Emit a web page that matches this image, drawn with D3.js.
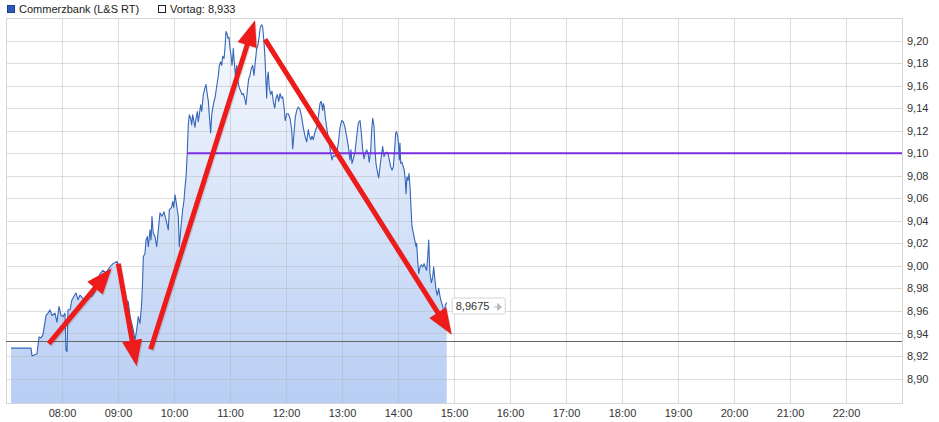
<!DOCTYPE html>
<html>
<head>
<meta charset="utf-8">
<script src="https://cdn.jsdelivr.net/npm/d3@7"></script>
<style>
  body { margin: 0; background: #fff; }
  svg { display: block; font-family: "Liberation Sans", Arial, sans-serif; }
</style>
</head>
<body>
<svg id="chart" width="939" height="422"></svg>
<script>
// Commerzbank (L&S RT) intraday ticks, time in minutes after 07:00
const tradeMinutes = [
  5.4, 26.8, 27.9, 33.2, 35.4, 37.5, 39.6, 42.9, 45.0, 47.1, 49.3, 52.5, 54.6, 56.8, 58.9, 61.1, 63.2, 64.3, 65.4, 66.4,
  68.6, 70.7, 72.9, 75.0, 77.1, 79.3, 82.5, 85.7, 88.9, 92.1, 95.4, 98.6, 100.7, 103.9, 107.1, 111.4, 114.6, 118.9, 122.1, 124.0,
  127.5, 131.0, 132.9, 136.4, 138.2, 140.0, 141.7, 143.6, 145.4, 146.5, 147.1, 148.9, 150.0, 151.4, 152.5, 154.3, 155.4, 156.4, 157.8, 159.6,
  161.5, 162.5, 165.0, 167.1, 169.3, 171.4, 173.9, 175.0, 177.5, 178.6, 179.7, 181.1, 183.5, 184.6, 185.7, 187.2, 189.3, 190.7, 191.8, 192.9,
  194.2, 195.3, 196.4, 197.9, 199.0, 200.0, 201.4, 202.5, 203.6, 205.0, 206.0, 207.1, 208.6, 209.7, 211.4, 213.2, 214.3, 215.7, 216.8, 217.8,
  219.3, 220.4, 221.5, 222.9, 223.9, 225.0, 226.4, 227.5, 228.6, 230.0, 231.1, 232.2, 233.6, 234.6, 235.7, 236.8, 237.9, 238.9, 240.0, 241.1,
  242.1, 242.9, 243.5, 244.6, 245.7, 247.2, 248.6, 250.0, 251.5, 252.9, 254.2, 255.7, 257.1, 258.5, 260.0, 261.4, 262.8, 264.3, 265.7, 267.1,
  268.6, 270.0, 271.4, 272.5, 274.0, 275.0, 276.4, 277.5, 278.6, 279.3, 280.0, 281.0, 282.1, 283.6, 285.0, 286.4, 287.9, 289.3, 290.7, 292.2,
  293.6, 295.0, 296.5, 297.9, 299.2, 300.7, 302.5, 304.3, 306.1, 307.2, 308.6, 310.0, 311.5, 313.2, 315.0, 316.8, 318.5, 320.4, 322.2, 323.9,
  325.0, 326.5, 327.9, 329.2, 331.1, 332.9, 334.6, 336.4, 337.8, 339.3, 340.0, 341.0, 342.1, 343.6, 345.0, 346.4, 347.9, 349.3, 350.7, 352.5,
  354.3, 356.1, 357.9, 359.7, 361.4, 363.2, 365.0, 366.8, 368.6, 369.6, 370.7, 372.1, 373.9, 375.8, 377.5, 379.3, 380.7, 382.2, 383.6, 385.0,
  386.5, 387.9, 389.2, 390.8, 391.8, 392.9, 394.3, 395.4, 396.4, 397.8, 399.3, 400.7, 402.1, 403.6, 405.0, 406.4, 407.9, 409.3, 410.7, 412.2,
  413.6, 415.0, 416.4, 417.5, 418.6, 419.7, 420.8, 421.4, 422.1, 422.9, 424.3, 425.7, 426.7, 427.8, 428.6, 429.6, 430.7, 431.8, 432.9, 433.9,
  435.0, 436.4, 437.9, 439.3, 440.0, 441.1, 442.2, 443.6, 445.0, 446.5, 447.9, 449.2, 450.7, 452.1, 452.9, 453.5, 454.3, 455.7, 457.2, 458.2,
  459.3, 460.7, 462.1, 463.6, 465.0, 466.4, 467.9, 469.3, 470.7, 472.2
];
const tradePrices = [
  8.927, 8.927, 8.920, 8.922, 8.937, 8.936, 8.939, 8.956, 8.958, 8.961, 8.956, 8.958, 8.950, 8.964, 8.956, 8.955, 8.958, 8.925, 8.924, 8.961,
  8.961, 8.970, 8.973, 8.976, 8.970, 8.974, 8.971, 8.970, 8.972, 8.973, 8.977, 8.987, 8.993, 8.996, 8.994, 8.999, 9.002, 9.004, 8.996, 8.979,
  8.970, 8.968, 8.955, 8.943, 8.934, 8.943, 8.955, 8.949, 8.967, 8.990, 9.008, 9.011, 9.023, 9.026, 9.017, 9.032, 9.023, 9.044, 9.029, 9.026,
  9.017, 9.026, 9.047, 9.044, 9.048, 9.041, 9.032, 9.050, 9.052, 9.057, 9.052, 9.063, 9.050, 9.044, 9.017, 9.032, 9.050, 9.058, 9.070, 9.079,
  9.100, 9.125, 9.134, 9.131, 9.125, 9.134, 9.128, 9.123, 9.131, 9.137, 9.128, 9.134, 9.143, 9.137, 9.152, 9.158, 9.161, 9.152, 9.146, 9.134,
  9.118, 9.134, 9.140, 9.146, 9.149, 9.155, 9.163, 9.169, 9.178, 9.181, 9.178, 9.186, 9.184, 9.193, 9.208, 9.206, 9.202, 9.203, 9.193, 9.187,
  9.178, 9.184, 9.193, 9.181, 9.169, 9.178, 9.163, 9.158, 9.155, 9.152, 9.153, 9.149, 9.143, 9.155, 9.166, 9.169, 9.175, 9.178, 9.169, 9.181,
  9.193, 9.196, 9.205, 9.212, 9.214, 9.212, 9.199, 9.184, 9.163, 9.149, 9.166, 9.172, 9.158, 9.152, 9.155, 9.146, 9.140, 9.149, 9.152, 9.146,
  9.153, 9.149, 9.150, 9.141, 9.129, 9.135, 9.135, 9.131, 9.121, 9.104, 9.118, 9.132, 9.138, 9.141, 9.139, 9.132, 9.123, 9.115, 9.110, 9.121,
  9.116, 9.112, 9.115, 9.112, 9.119, 9.123, 9.132, 9.144, 9.146, 9.138, 9.144, 9.141, 9.132, 9.123, 9.115, 9.109, 9.100, 9.094, 9.098, 9.097,
  9.100, 9.109, 9.123, 9.129, 9.128, 9.123, 9.115, 9.106, 9.094, 9.103, 9.091, 9.095, 9.101, 9.115, 9.127, 9.129, 9.118, 9.103, 9.095, 9.100,
  9.103, 9.100, 9.092, 9.103, 9.121, 9.131, 9.124, 9.103, 9.091, 9.084, 9.078, 9.088, 9.097, 9.106, 9.097, 9.100, 9.101, 9.100, 9.094, 9.088,
  9.085, 9.088, 9.103, 9.118, 9.119, 9.115, 9.106, 9.094, 9.109, 9.091, 9.092, 9.088, 9.085, 9.076, 9.064, 9.079, 9.076, 9.082, 9.070, 9.052,
  9.035, 9.029, 9.023, 9.017, 9.020, 9.005, 8.993, 8.999, 9.001, 8.999, 9.002, 8.999, 8.996, 9.011, 9.023, 9.008, 8.993, 8.985, 8.990, 8.999,
  8.990, 8.979, 8.974, 8.980, 8.973, 8.968, 8.964, 8.958, 8.965, 8.9675
];

const seriesName = "Commerzbank (L&S RT)";
const previousClose = 8.933;
const lastPrice = 8.9675;
// horizontal level drawn from about 10:14 on
const levelPrice = 9.10;
const levelFromMinute = 194;

const xTickLabels = ["08:00", "09:00", "10:00", "11:00", "12:00", "13:00", "14:00", "15:00",
  "16:00", "17:00", "18:00", "19:00", "20:00", "21:00", "22:00"];
const yTickValues = [8.90, 8.92, 8.94, 8.96, 8.98, 9.00, 9.02, 9.04, 9.06, 9.08, 9.10, 9.12, 9.14, 9.16, 9.18, 9.20];

// red annotation arrows: [minute, price] of tail and tip
const arrowTails = [[45.9, 8.931], [120.3, 9.002], [155.0, 8.926], [277.5, 9.201]];
const arrowTips = [[113.2, 8.998], [140.0, 8.911], [266.8, 9.218], [477.5, 8.939]];

const plotLeft = 6, plotRight = 902, plotTop = 18, plotBottom = 403;

const de = d3.formatLocale({ decimal: ",", thousands: ".", grouping: [3], currency: ["", " €"] });
const fmt2 = de.format(".2f");

const day = new Date(2021, 0, 4, 7, 0, 0);
const toTime = m => new Date(day.getTime() + m * 60000);
const labelToMinute = s => {
  const [h, m] = s.split(":").map(Number);
  return h * 60 + m - 420;
};

const x = d3.scaleTime().domain([toTime(0), toTime(960)]).range([plotLeft, plotRight]);
const y = d3.scaleLinear().domain([8.8783, 9.2200]).range([plotBottom, plotTop]);

const svg = d3.select("#chart");

const defs = svg.append("defs");
const grad = defs.append("linearGradient")
  .attr("id", "fillGrad")
  .attr("gradientUnits", "userSpaceOnUse")
  .attr("x1", 0).attr("x2", 0)
  .attr("y1", plotTop).attr("y2", plotBottom);
grad.append("stop").attr("offset", 0).attr("stop-color", "#f8fafe");
grad.append("stop").attr("offset", 1).attr("stop-color", "#b8cef4");

const data = tradeMinutes.map((m, i) => ({ t: toTime(m), v: tradePrices[i] }));

// area under the price line
svg.append("path")
  .datum(data)
  .attr("fill", "url(#fillGrad)")
  .attr("d", d3.area().x(d => x(d.t)).y0(plotBottom).y1(d => y(d.v)));

// grid
const grid = svg.append("g").attr("stroke", "#b4b4b4").attr("stroke-opacity", 0.45).attr("shape-rendering", "crispEdges");
grid.selectAll(".hg")
  .data(yTickValues)
  .enter().append("line")
  .attr("x1", plotLeft).attr("x2", plotRight)
  .attr("y1", d => Math.round(y(d)) + 0.5).attr("y2", d => Math.round(y(d)) + 0.5);
grid.selectAll(".vg")
  .data(xTickLabels)
  .enter().append("line")
  .attr("x1", d => Math.round(x(toTime(labelToMinute(d)))) + 0.5)
  .attr("x2", d => Math.round(x(toTime(labelToMinute(d)))) + 0.5)
  .attr("y1", plotTop).attr("y2", plotBottom);

svg.append("rect")
  .attr("x", plotLeft + 0.5).attr("y", plotTop + 0.5)
  .attr("width", plotRight - plotLeft).attr("height", plotBottom - plotTop)
  .attr("fill", "none").attr("stroke", "#d6d6d6");

// previous close
svg.append("line")
  .attr("x1", plotLeft).attr("x2", plotRight)
  .attr("y1", Math.round(y(previousClose)) + 0.5).attr("y2", Math.round(y(previousClose)) + 0.5)
  .attr("stroke", "#666").attr("stroke-width", 1);

// price line
svg.append("path")
  .datum(data)
  .attr("fill", "none")
  .attr("stroke", "#3465b8")
  .attr("stroke-width", 1.1)
  .attr("stroke-linejoin", "round")
  .attr("d", d3.line().x(d => x(d.t)).y(d => y(d.v)));

// purple level line
svg.append("line")
  .attr("x1", x(toTime(levelFromMinute))).attr("x2", plotRight)
  .attr("y1", y(levelPrice)).attr("y2", y(levelPrice))
  .attr("stroke", "#7a2fe3").attr("stroke-width", 2);

// axes
const yAxis = d3.axisRight(y).tickValues(yTickValues).tickFormat(fmt2).tickSize(0).tickPadding(5);
svg.append("g")
  .attr("transform", `translate(${plotRight},0)`)
  .call(yAxis)
  .call(g => g.select(".domain").remove())
  .call(g => g.selectAll("text").attr("fill", "#333").attr("font-size", 11).attr("font-family", "Liberation Sans, Arial, sans-serif"));

const xAxis = d3.axisBottom(x)
  .tickValues(xTickLabels.map(s => toTime(labelToMinute(s))))
  .tickFormat(d3.timeFormat("%H:%M"))
  .tickSize(0).tickPadding(6);
svg.append("g")
  .attr("transform", `translate(0,${plotBottom})`)
  .call(xAxis)
  .call(g => g.select(".domain").remove())
  .call(g => g.selectAll("text").attr("fill", "#333").attr("font-size", 11).attr("font-family", "Liberation Sans, Arial, sans-serif"));

// last price label
const last = data[data.length - 1];
const ly = y(lastPrice) + 4;
const lx = x(last.t) + 5;
const lbl = svg.append("g").attr("transform", `translate(${lx},${ly})`);
lbl.append("rect")
  .attr("x", 0.5).attr("y", -8.5).attr("width", 53).attr("height", 16)
  .attr("fill", "#fff").attr("stroke", "#d4d4d4").attr("rx", 1.5);
lbl.append("text")
  .attr("x", 4).attr("y", 4)
  .attr("font-size", 11).attr("fill", "#333")
  .text(de.format(".4f")(lastPrice));
lbl.append("path")
  .attr("d", "M42,0.5 H47 M46,-2.5 L49.5,0.5 L46,3.5 Z")
  .attr("stroke", "#bbb").attr("stroke-width", 1.2).attr("fill", "#bbb");

// legend
const legend = svg.append("g").attr("font-size", 11).attr("fill", "#222");
legend.append("rect").attr("x", 7.5).attr("y", 5.5).attr("width", 7).attr("height", 7)
  .attr("fill", "#2a5cc0").attr("stroke", "#1d3f88");
legend.append("text").attr("x", 19).attr("y", 13).text(seriesName);
legend.append("rect").attr("x", 158.5).attr("y", 5.5).attr("width", 7).attr("height", 7)
  .attr("fill", "#fff").attr("stroke", "#222");
legend.append("text").attr("x", 170).attr("y", 13).text("Vortag: " + de.format(".3f")(previousClose));

// red arrows
const shaftW = 5, headLen = 26, headHalf = 10;
const arrowPath = (a, b) => {
  const x0 = x(toTime(a[0])), y0 = y(a[1]);
  const x1 = x(toTime(b[0])), y1 = y(b[1]);
  const len = Math.hypot(x1 - x0, y1 - y0);
  const ux = (x1 - x0) / len, uy = (y1 - y0) / len;
  const nx = -uy, ny = ux;
  const bx = x1 - ux * headLen, by = y1 - uy * headLen;
  const pts = [
    [x0 + nx * shaftW / 2, y0 + ny * shaftW / 2],
    [bx + nx * shaftW / 2, by + ny * shaftW / 2],
    [bx + nx * headHalf, by + ny * headHalf],
    [x1, y1],
    [bx - nx * headHalf, by - ny * headHalf],
    [bx - nx * shaftW / 2, by - ny * shaftW / 2],
    [x0 - nx * shaftW / 2, y0 - ny * shaftW / 2]
  ];
  return "M" + pts.map(p => p.join(",")).join("L") + "Z";
};
const arrows = svg.append("g");
arrows.selectAll(".shadow")
  .data(arrowTails)
  .enter().append("path")
  .attr("transform", "translate(1,1.5)")
  .attr("fill", "#000").attr("fill-opacity", 0.12)
  .attr("d", (d, i) => arrowPath(d, arrowTips[i]));
arrows.selectAll(".arrow")
  .data(arrowTails)
  .enter().append("path")
  .attr("fill", "#ee1b1b")
  .attr("d", (d, i) => arrowPath(d, arrowTips[i]));
</script>
</body>
</html>
